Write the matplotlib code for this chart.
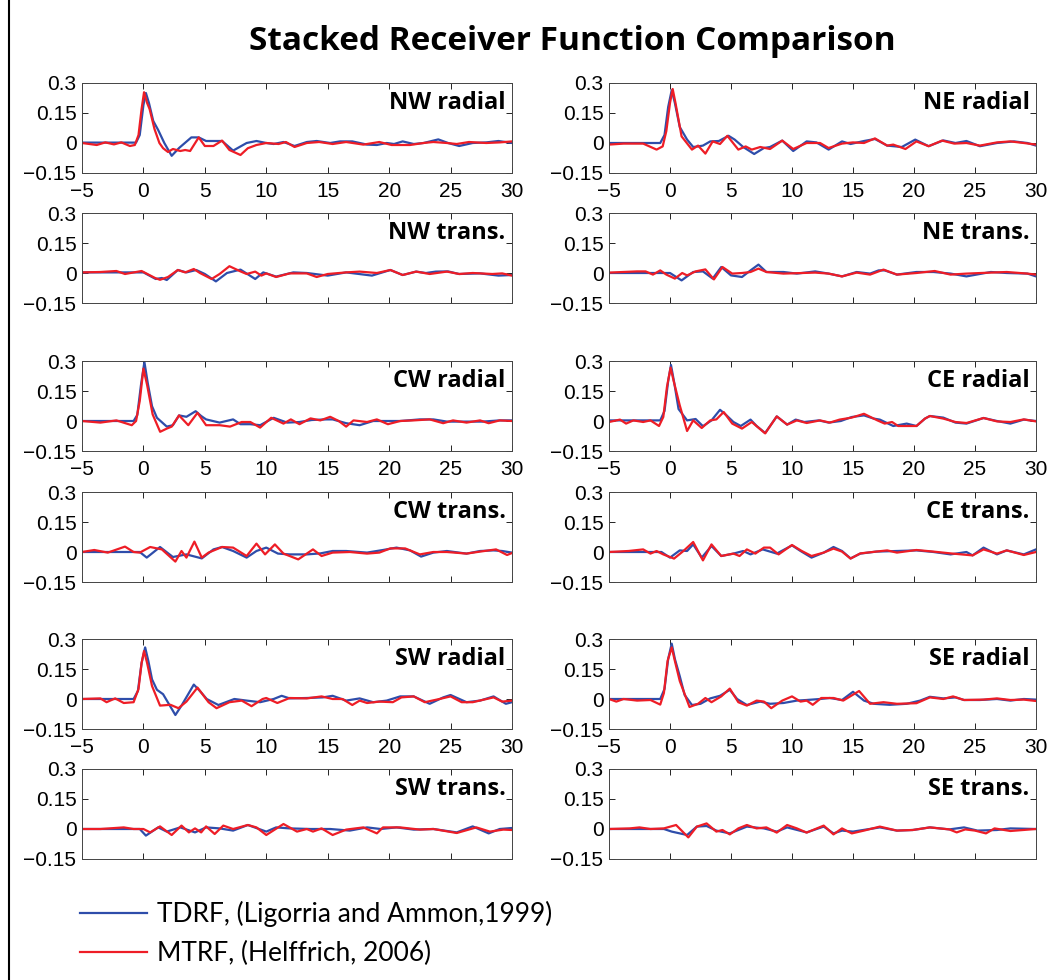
import matplotlib
matplotlib.use('Agg')
import matplotlib.pyplot as plt
from matplotlib.lines import Line2D

# stacked receiver functions, (time s, amplitude)
# blue = TDRF, red = MTRF
nw_rad_tdrf = [(-5,0.002),(-0.6,0.002),(-0.3,0.04),(0.0,0.19),(0.2,0.25),(0.45,0.2),(0.8,0.11),(1.2,0.065),(1.7,0.0),(2.3,-0.064),(2.9,-0.025),(3.9,0.028),(4.5,0.028),(5.1,0.01),(6.4,0.01),(7.3,-0.038),(8.4,0.0),(9.2,0.01),(10.0,0.0),(10.6,-0.005),(11.4,0.005),(12.3,-0.015),(13.3,0.005),(14.1,0.01),(15.2,0.0),(16.0,0.008),(17.0,0.008),(18.2,-0.008),(19.0,-0.01),(19.8,0.0),(20.4,-0.005),(21.1,0.008),(22.0,-0.005),(22.8,0.0),(24.0,0.018),(24.8,0.0),(25.7,-0.015),(26.8,0.0),(27.9,0.003),(28.9,0.01),(30.0,0.0)]
nw_rad_mtrf = [(-5,0.0),(-3.8,-0.01),(-3.1,0.003),(-2.4,-0.007),(-1.8,0.003),(-1.1,-0.015),(-0.7,-0.01),(-0.4,0.04),(-0.15,0.17),(0.05,0.254),(0.3,0.2),(0.5,0.17),(0.9,0.07),(1.3,0.0),(1.6,-0.026),(2.0,-0.045),(2.4,-0.03),(3.0,-0.04),(3.4,-0.035),(3.8,-0.04),(4.5,0.028),(5.0,-0.015),(5.7,-0.015),(6.4,0.012),(7.0,-0.035),(7.9,-0.06),(8.5,-0.026),(9.2,-0.01),(10.0,0.0),(11.0,-0.005),(11.6,0.005),(12.3,-0.02),(13.3,0.0),(14.3,0.005),(15.4,-0.005),(16.5,0.005),(17.9,-0.008),(19.2,0.005),(20.2,-0.01),(21.7,-0.01),(22.8,0.0),(23.6,0.005),(24.7,0.0),(25.5,-0.005),(26.5,0.005),(27.9,0.0),(29.0,0.003),(30.0,0.008)]
nw_tra_tdrf = [(-5,0.003),(0.0,0.003),(1.0,-0.03),(1.5,-0.025),(1.9,-0.035),(2.8,0.015),(3.5,0.003),(4.3,0.015),(5.0,-0.005),(5.9,-0.042),(6.8,0.0),(7.9,0.017),(9.1,-0.03),(9.75,0.003),(10.8,-0.018),(12.2,0.003),(13.3,0.0),(15.0,-0.013),(16.5,0.003),(18.6,-0.013),(20.1,0.015),(21.1,-0.01),(22.2,0.007),(23.0,0.0),(23.8,0.007),(24.8,0.008),(25.7,-0.005),(27.4,-0.002),(28.9,-0.013),(30.0,-0.01)]
nw_tra_mtrf = [(-5,0.003),(-3.5,0.005),(-2.2,0.01),(-1.5,-0.005),(-0.15,0.01),(0.95,-0.025),(1.35,-0.034),(2.0,-0.02),(2.8,0.015),(3.4,0.003),(4.1,0.02),(4.6,0.0),(5.55,-0.03),(6.2,-0.005),(7.0,0.034),(7.9,0.008),(8.4,-0.005),(9.1,0.007),(9.6,-0.013),(10.0,-0.002),(10.8,-0.02),(11.9,-0.002),(13.3,-0.002),(14.1,-0.02),(15.0,-0.005),(16.5,0.003),(17.6,0.007),(19.0,0.0),(20.1,0.015),(21.1,-0.01),(22.2,0.007),(23.3,-0.005),(24.7,0.007),(25.7,-0.005),(26.8,0.0),(28.4,-0.005),(29.2,-0.002),(30.0,-0.013)]

ne_rad_tdrf = [(-5,0.0),(-0.8,0.0),(-0.45,0.04),(-0.15,0.18),(0.14,0.264),(0.4,0.2),(0.8,0.08),(1.4,0.017),(1.9,-0.02),(2.3,-0.017),(2.7,-0.013),(3.3,0.008),(4.0,0.01),(4.8,0.036),(5.3,0.017),(6.0,-0.02),(6.9,-0.055),(7.7,-0.025),(8.2,-0.02),(9.2,0.012),(10.1,-0.04),(11.2,0.008),(12.0,0.003),(13.0,-0.033),(14.1,0.008),(14.8,-0.005),(15.9,0.01),(16.8,0.02),(17.8,-0.013),(19.0,-0.02),(20.1,0.017),(21.2,-0.016),(22.4,0.013),(23.4,0.0),(24.3,0.01),(25.4,-0.016),(26.8,0.0),(28.2,0.008),(29.3,0.0),(30.0,-0.013)]
ne_rad_mtrf = [(-5,-0.008),(-3.8,-0.003),(-2.2,-0.003),(-1.1,-0.033),(-0.6,-0.017),(-0.3,0.06),(0.0,0.2),(0.22,0.27),(0.45,0.2),(0.95,0.033),(1.8,-0.033),(2.3,-0.013),(2.9,-0.053),(3.5,0.008),(4.1,-0.005),(4.7,0.036),(5.6,-0.033),(6.2,-0.017),(6.7,-0.033),(7.4,-0.02),(8.2,-0.03),(9.2,0.012),(10.1,-0.03),(11.2,0.0),(12.3,0.0),(13.0,-0.025),(14.1,-0.003),(15.0,0.003),(15.9,0.0),(16.8,0.023),(17.8,-0.013),(18.3,-0.008),(19.3,-0.03),(20.2,0.008),(21.2,-0.016),(22.3,0.012),(23.3,-0.003),(24.3,0.0),(25.4,-0.013),(26.8,0.003),(27.9,0.008),(29.0,0.0),(30.0,-0.008)]
ne_tra_tdrf = [(-5,0.0),(0.0,0.0),(0.95,-0.037),(1.9,0.005),(2.7,0.008),(3.5,-0.028),(4.2,0.03),(5.0,-0.012),(5.9,-0.02),(6.6,0.013),(7.25,0.042),(7.9,0.005),(9.3,0.005),(10.4,-0.003),(11.9,0.008),(13.0,-0.003),(14.1,-0.017),(15.3,0.005),(16.4,-0.003),(17.1,0.013),(17.6,0.013),(18.6,-0.008),(20.2,0.005),(21.6,0.005),(23.0,-0.003),(24.3,-0.017),(26.3,0.005),(27.6,0.0),(29.3,-0.003),(30.0,-0.017)]
ne_tra_mtrf = [(-5,0.002),(-2.7,0.008),(-2.0,0.008),(-1.4,-0.008),(-0.8,0.013),(-0.3,-0.008),(0.4,-0.028),(1.0,0.0),(1.4,-0.012),(2.1,0.008),(2.9,0.018),(3.6,-0.032),(4.3,0.03),(5.1,-0.003),(5.9,0.0),(6.6,0.005),(7.25,0.022),(7.9,0.005),(9.3,-0.003),(11.9,0.002),(13.0,-0.003),(14.1,-0.017),(15.3,0.002),(16.4,-0.008),(17.5,0.017),(18.6,-0.008),(20.2,0.0),(21.7,0.01),(23.0,-0.008),(24.3,-0.003),(26.3,0.002),(27.6,0.005),(29.3,-0.003),(30.0,-0.008)]

cw_rad_tdrf = [(-5,0.0),(-0.8,0.0),(-0.5,0.03),(-0.2,0.18),(0.08,0.295),(0.35,0.19),(0.7,0.074),(1.1,0.016),(1.9,-0.028),(2.4,-0.021),(2.9,0.028),(3.5,0.021),(4.25,0.049),(4.7,0.025),(5.1,0.008),(6.2,-0.008),(7.3,0.008),(7.9,-0.016),(8.7,-0.016),(9.5,-0.021),(10.6,0.016),(11.7,-0.008),(12.7,-0.005),(13.7,0.005),(14.9,0.008),(15.4,0.008),(16.5,-0.011),(17.6,-0.021),(18.7,0.0),(19.8,0.0),(20.9,0.0),(22.5,0.008),(23.6,0.008),(24.7,-0.003),(26.3,-0.003),(27.6,-0.003),(29.0,0.003),(30.0,0.003)]
cw_rad_mtrf = [(-5,0.0),(-3.5,-0.008),(-2.2,0.003),(-0.95,-0.021),(-0.6,0.0),(-0.3,0.1),(0.0,0.262),(0.3,0.18),(0.75,0.033),(1.36,-0.054),(1.9,-0.038),(2.3,-0.028),(2.9,0.028),(3.65,-0.021),(4.4,0.041),(5.1,-0.021),(6.2,-0.021),(7.05,-0.028),(8.0,-0.005),(8.7,-0.005),(9.5,-0.033),(10.4,0.016),(11.4,-0.013),(12.0,0.008),(12.7,-0.016),(13.6,0.013),(14.4,0.003),(15.2,0.021),(15.9,0.0),(16.5,-0.028),(17.1,0.003),(18.2,-0.005),(19.0,0.008),(19.9,-0.016),(20.9,0.0),(22.0,0.003),(23.3,0.008),(24.4,-0.011),(25.2,0.003),(26.3,-0.008),(27.4,0.003),(28.1,-0.011),(29.0,0.003),(30.0,0.0)]
cw_tra_tdrf = [(-5,0.0),(-0.3,0.0),(0.27,-0.028),(1.35,0.025),(2.4,-0.025),(3.5,-0.012),(4.75,-0.032),(5.7,0.013),(6.4,0.025),(7.3,0.005),(8.4,-0.028),(9.2,0.005),(10.0,0.022),(10.95,-0.008),(11.9,-0.012),(13.3,-0.012),(14.4,-0.007),(15.4,0.005),(16.5,0.005),(18.2,-0.003),(19.5,0.01),(20.6,0.022),(21.7,0.008),(22.6,-0.023),(23.6,-0.003),(24.7,0.005),(26.3,-0.008),(27.4,0.005),(28.5,0.008),(29.2,0.005),(30.0,-0.003)]
cw_tra_mtrf = [(-5,0.0),(-4.0,0.01),(-2.9,-0.003),(-1.5,0.027),(-0.8,0.0),(-0.3,-0.003),(0.55,0.025),(1.5,0.013),(2.6,-0.048),(3.1,0.005),(3.5,-0.028),(4.15,0.052),(4.75,-0.028),(5.3,-0.003),(6.4,0.025),(7.3,0.022),(8.4,-0.02),(9.2,0.042),(9.9,-0.012),(10.7,0.038),(11.4,-0.008),(12.6,-0.037),(13.8,0.013),(14.5,-0.02),(15.4,-0.003),(16.8,0.0),(18.2,-0.008),(19.2,-0.003),(20.1,0.018),(21.3,0.018),(22.5,-0.012),(23.6,0.0),(24.7,0.0),(26.3,-0.008),(27.4,0.002),(28.7,0.013),(29.6,-0.015),(30.0,-0.005)]

ce_rad_tdrf = [(-5,0.003),(-0.8,0.003),(-0.45,0.05),(-0.15,0.2),(0.08,0.28),(0.35,0.19),(0.7,0.06),(1.4,0.003),(2.1,0.01),(2.7,-0.026),(3.4,0.003),(4.1,0.056),(4.6,0.03),(5.2,-0.005),(5.8,-0.025),(6.6,0.007),(7.1,-0.025),(7.8,-0.06),(8.75,0.023),(9.6,-0.018),(10.3,0.007),(11.0,-0.005),(12.2,0.003),(13.0,-0.008),(14.0,0.0),(14.9,0.02),(15.9,0.028),(16.7,0.012),(17.2,0.007),(18.3,-0.025),(19.4,-0.013),(20.2,-0.025),(20.9,0.012),(21.3,0.025),(22.4,0.017),(23.4,-0.008),(24.3,-0.013),(25.7,0.015),(26.8,0.0),(27.9,-0.013),(29.0,0.007),(30.0,0.0)]
ce_rad_mtrf = [(-5,-0.005),(-4.1,0.007),(-3.6,-0.013),(-3.0,0.003),(-2.2,-0.005),(-1.6,0.003),(-0.9,-0.025),(-0.55,0.02),(-0.25,0.17),(0.05,0.267),(0.3,0.2),(0.8,0.078),(1.4,-0.05),(1.9,0.003),(2.6,-0.035),(3.3,0.003),(3.8,0.008),(4.4,0.045),(5.1,-0.013),(5.9,-0.038),(6.7,-0.005),(7.8,-0.062),(8.75,0.023),(9.6,-0.018),(10.4,0.003),(11.2,-0.01),(12.3,0.003),(13.1,-0.008),(13.9,0.007),(14.9,0.017),(15.9,0.036),(17.0,0.003),(17.6,-0.013),(18.2,-0.005),(18.7,-0.025),(19.4,-0.025),(20.2,-0.025),(20.9,0.012),(21.3,0.025),(22.4,0.012),(23.4,-0.005),(24.3,-0.01),(25.7,0.015),(26.8,-0.002),(27.9,-0.005),(29.0,0.008),(30.0,-0.002)]
ce_tra_tdrf = [(-5,0.0),(-0.7,0.0),(0.0,-0.028),(0.8,0.008),(1.4,0.005),(1.9,0.038),(2.6,-0.028),(3.4,0.03),(4.2,-0.02),(5.2,-0.008),(6.0,0.005),(6.6,-0.012),(7.6,0.013),(8.75,-0.008),(10.0,0.033),(10.7,0.005),(11.6,-0.028),(12.6,-0.003),(13.4,0.025),(14.1,0.005),(14.8,-0.032),(15.6,-0.008),(16.9,0.002),(18.6,0.005),(20.2,0.008),(21.6,0.0),(23.0,-0.012),(24.3,0.0),(24.8,-0.017),(25.7,0.022),(26.8,-0.012),(27.6,0.008),(29.0,-0.012),(30.0,0.013)]
ce_tra_mtrf = [(-5,0.0),(-3.4,0.005),(-2.2,0.013),(-1.6,-0.008),(-1.1,0.005),(-0.55,-0.012),(0.33,-0.033),(1.1,0.005),(1.9,0.05),(2.7,-0.042),(3.4,0.038),(4.2,-0.02),(5.2,-0.008),(5.7,-0.02),(6.3,0.013),(7.0,-0.008),(7.7,0.022),(8.2,0.022),(8.9,-0.012),(10.0,0.035),(10.8,0.005),(11.6,-0.02),(12.6,-0.003),(13.4,0.017),(14.1,0.002),(14.8,-0.033),(15.6,-0.007),(16.9,0.002),(17.8,0.008),(18.6,-0.003),(20.2,0.01),(21.6,0.002),(23.0,-0.007),(24.8,-0.017),(25.7,0.013),(26.8,-0.008),(27.6,0.008),(29.0,-0.015),(30.0,0.0)]

sw_rad_tdrf = [(-5,0.0),(-0.8,0.0),(-0.45,0.04),(-0.15,0.18),(0.14,0.258),(0.4,0.19),(0.7,0.098),(1.1,0.046),(1.6,0.024),(2.6,-0.08),(3.1,-0.033),(4.1,0.072),(4.6,0.04),(5.15,0.0),(6.1,-0.03),(7.4,0.0),(8.4,-0.008),(9.5,-0.016),(10.6,0.0),(11.25,0.016),(11.9,0.003),(13.3,0.005),(14.6,0.008),(15.4,0.016),(16.5,-0.008),(17.6,0.003),(18.7,-0.016),(19.8,-0.008),(20.9,0.013),(22.0,0.013),(23.3,-0.024),(24.4,0.008),(25.0,0.02),(26.3,-0.016),(27.4,-0.008),(28.5,0.013),(29.5,-0.024),(30.0,-0.016)]
sw_rad_mtrf = [(-5,0.0),(-3.5,0.003),(-3.0,-0.016),(-2.3,0.003),(-1.6,-0.02),(-0.8,-0.016),(-0.4,0.05),(-0.15,0.18),(0.05,0.24),(0.3,0.18),(0.7,0.065),(1.35,-0.033),(2.2,-0.029),(2.85,-0.046),(3.5,-0.013),(4.4,0.057),(5.3,-0.016),(5.95,-0.046),(7.0,-0.016),(8.0,-0.008),(8.8,-0.036),(9.7,0.0),(10.0,0.005),(10.9,-0.02),(11.9,0.005),(13.3,0.003),(14.5,0.013),(15.4,0.0),(16.2,0.0),(17.0,-0.03),(17.6,-0.008),(18.2,-0.02),(19.2,-0.013),(20.3,-0.016),(21.0,0.008),(22.0,0.013),(22.9,-0.016),(24.1,0.0),(25.0,0.013),(25.9,-0.016),(26.8,-0.016),(28.5,0.008),(29.2,-0.013),(30.0,-0.008)]
sw_tra_tdrf = [(-5,0.0),(-0.3,0.0),(0.2,-0.033),(1.2,0.008),(1.9,-0.013),(3.0,0.008),(4.2,-0.017),(5.1,0.008),(6.2,0.003),(7.3,-0.008),(8.5,0.02),(10.0,-0.013),(10.8,0.008),(11.9,0.003),(13.6,0.0),(15.2,0.0),(16.8,-0.008),(18.2,0.008),(19.3,0.0),(20.6,0.008),(22.0,-0.003),(23.6,0.0),(25.5,-0.017),(26.8,0.013),(28.1,-0.022),(29.0,0.0),(30.0,0.005)]
sw_tra_mtrf = [(-5,0.0),(-3.5,0.0),(-1.6,0.008),(-0.8,0.0),(0.0,0.0),(0.55,-0.017),(1.35,0.013),(2.3,-0.03),(3.1,0.017),(3.7,-0.017),(4.2,0.003),(4.7,-0.017),(5.1,0.013),(5.8,-0.025),(6.5,0.017),(7.3,0.0),(8.5,0.02),(9.2,0.008),(10.0,-0.03),(11.4,0.025),(12.5,-0.013),(13.3,0.0),(13.8,-0.013),(14.5,0.003),(15.4,-0.03),(16.5,-0.003),(17.9,0.008),(19.0,-0.022),(19.5,0.008),(20.9,0.008),(22.5,-0.003),(23.6,0.0),(25.5,-0.02),(27.1,0.008),(28.2,-0.013),(29.3,-0.003),(30.0,-0.005)]

se_rad_tdrf = [(-5,0.0),(-0.8,0.0),(-0.45,0.05),(-0.15,0.2),(0.14,0.277),(0.4,0.2),(0.8,0.114),(1.2,0.02),(1.8,-0.03),(2.5,-0.024),(3.3,0.003),(4.1,0.016),(4.9,0.046),(5.5,0.0),(6.3,-0.03),(7.4,-0.013),(8.2,-0.024),(9.3,-0.02),(10.4,-0.008),(11.2,-0.005),(12.3,0.0),(13.1,0.005),(14.1,-0.005),(15.0,0.036),(15.9,-0.008),(16.7,-0.024),(18.0,-0.029),(19.4,-0.024),(20.5,-0.008),(21.3,0.011),(22.4,0.003),(23.4,0.008),(24.1,-0.005),(25.4,-0.005),(26.8,0.0),(27.9,-0.008),(29.0,0.0),(30.0,-0.003)]
se_rad_mtrf = [(-5,0.0),(-4.4,-0.013),(-3.8,0.0),(-2.7,-0.008),(-1.6,-0.005),(-0.8,-0.028),(-0.5,0.03),(-0.2,0.19),(0.14,0.258),(0.4,0.19),(0.8,0.09),(1.6,-0.04),(2.3,-0.024),(2.9,0.005),(3.4,-0.016),(4.2,0.013),(4.9,0.052),(5.6,-0.016),(6.3,-0.033),(7.1,-0.008),(7.7,-0.013),(8.3,-0.046),(9.2,-0.008),(10.0,0.013),(10.7,-0.013),(11.2,-0.008),(11.7,-0.029),(12.4,0.005),(13.4,0.005),(14.2,-0.008),(15.5,0.04),(16.4,-0.024),(17.5,-0.016),(18.6,-0.024),(20.2,-0.021),(21.3,0.008),(22.4,0.0),(23.2,0.013),(24.1,-0.005),(25.7,-0.003),(26.8,0.003),(27.9,-0.005),(29.0,-0.003),(30.0,-0.01)]
se_tra_tdrf = [(-5,0.0),(-0.5,0.0),(0.14,-0.013),(1.4,-0.03),(2.2,0.012),(3.0,0.015),(3.8,-0.008),(4.9,-0.022),(6.3,0.012),(7.7,0.003),(8.75,-0.013),(9.6,0.008),(11.2,-0.017),(12.6,0.012),(13.4,-0.022),(14.1,-0.008),(15.0,-0.013),(17.2,0.008),(18.6,-0.008),(19.9,-0.005),(21.3,0.008),(22.9,-0.002),(24.1,0.008),(25.2,-0.008),(26.8,-0.005),(27.9,0.003),(30.0,0.0)]
se_tra_mtrf = [(-5,0.0),(-3.3,0.003),(-2.5,0.008),(-1.6,0.0),(-0.5,0.003),(0.5,0.02),(1.5,-0.042),(2.2,0.012),(3.0,0.028),(3.8,-0.013),(4.3,-0.005),(4.9,-0.027),(5.6,0.003),(6.3,0.02),(7.1,0.003),(7.9,0.008),(8.75,-0.018),(9.6,0.02),(10.4,0.003),(11.2,-0.018),(12.6,0.017),(13.4,-0.027),(14.1,0.003),(14.9,-0.022),(15.9,-0.008),(17.2,0.012),(18.6,-0.008),(19.9,-0.005),(21.3,0.008),(22.9,-0.002),(23.5,-0.017),(24.2,-0.002),(25.0,-0.008),(25.9,-0.022),(26.6,0.003),(27.9,-0.01),(30.0,0.0)]

panel_labels = ['NW radial', 'NW trans.', 'NE radial', 'NE trans.',
                'CW radial', 'CW trans.', 'CE radial', 'CE trans.',
                'SW radial', 'SW trans.', 'SE radial', 'SE trans.']
tdrf_series = [nw_rad_tdrf, nw_tra_tdrf, ne_rad_tdrf, ne_tra_tdrf,
               cw_rad_tdrf, cw_tra_tdrf, ce_rad_tdrf, ce_tra_tdrf,
               sw_rad_tdrf, sw_tra_tdrf, se_rad_tdrf, se_tra_tdrf]
mtrf_series = [nw_rad_mtrf, nw_tra_mtrf, ne_rad_mtrf, ne_tra_mtrf,
               cw_rad_mtrf, cw_tra_mtrf, ce_rad_mtrf, ce_tra_mtrf,
               sw_rad_mtrf, sw_tra_mtrf, se_rad_mtrf, se_tra_mtrf]
legend_labels = ['TDRF, (Ligorria and Ammon,1999)', 'MTRF, (Helffrich, 2006)']

xticks = [-5, 0, 5, 10, 15, 20, 25, 30]
yticks = [-0.15, 0, 0.15, 0.3]
ytick_labels = ['\u22120.15', '0', '0.15', '0.3']

BLUE = '#2E4DAA'
RED = '#EE1D26'

plt.rcParams['font.family'] = ['Liberation Sans', 'DejaVu Sans']

W, H = 1064, 980
fig = plt.figure(figsize=(W / 100, H / 100), dpi=100)

col_left = [82, 609]
col_width = [430, 427]
row_top = [83, 213, 361, 492, 639, 769]
ax_h = 90

for i, label in enumerate(panel_labels):
    grp = i // 4
    col = (i // 2) % 2
    row = grp * 2 + (i % 2)
    radial = (i % 2 == 0)
    ax = fig.add_axes([col_left[col] / W, 1 - (row_top[row] + ax_h) / H,
                       col_width[col] / W, ax_h / H])
    tb, vb = zip(*tdrf_series[i])
    tr, vr = zip(*mtrf_series[i])
    ax.plot(tb, vb, color=BLUE, lw=1.6)
    ax.plot(tr, vr, color=RED, lw=1.6)
    ax.set_xlim(-5, 30)
    ax.set_ylim(-0.15, 0.3)
    ax.set_xticks(xticks)
    ax.set_yticks(yticks)
    ax.set_yticklabels(ytick_labels)
    if radial:
        ax.set_xticklabels([('\u2212' + str(-v)) if v < 0 else str(v) for v in xticks])
    else:
        ax.set_xticklabels([])
    ax.tick_params(direction='in', top=True, right=True, length=4, width=0.6,
                   labelsize=15, colors='black')
    ax.tick_params(axis='x', pad=6.5)
    ax.tick_params(axis='y', pad=4)
    for sp in ax.spines.values():
        sp.set_linewidth(0.7)
        sp.set_color('#444444')
    ax.text(0.985, 0.78, label, transform=ax.transAxes, ha='right', va='center',
            fontsize=17, fontweight='bold', family='Open Sans')

fig.text(572 / W, 1 - 42 / H, 'Stacked Receiver Function Comparison', ha='center', va='center',
         fontsize=24, fontweight='bold', family='Open Sans')

# left border line
fig.add_artist(Line2D([9 / W, 9 / W], [0, 1], transform=fig.transFigure, color='black', lw=1.5))

handles = [Line2D([], [], color=BLUE, lw=1.6), Line2D([], [], color=RED, lw=1.6)]
fig.legend(handles, legend_labels, loc='upper left', bbox_to_anchor=(80 / W, 1 - 901 / H),
           frameon=False, prop={'family': 'Lato', 'size': 19},
           handlelength=2.55, handletextpad=0.38, labelspacing=0.54,
           borderpad=0, borderaxespad=0)

fig.savefig('out.png', dpi=100)
